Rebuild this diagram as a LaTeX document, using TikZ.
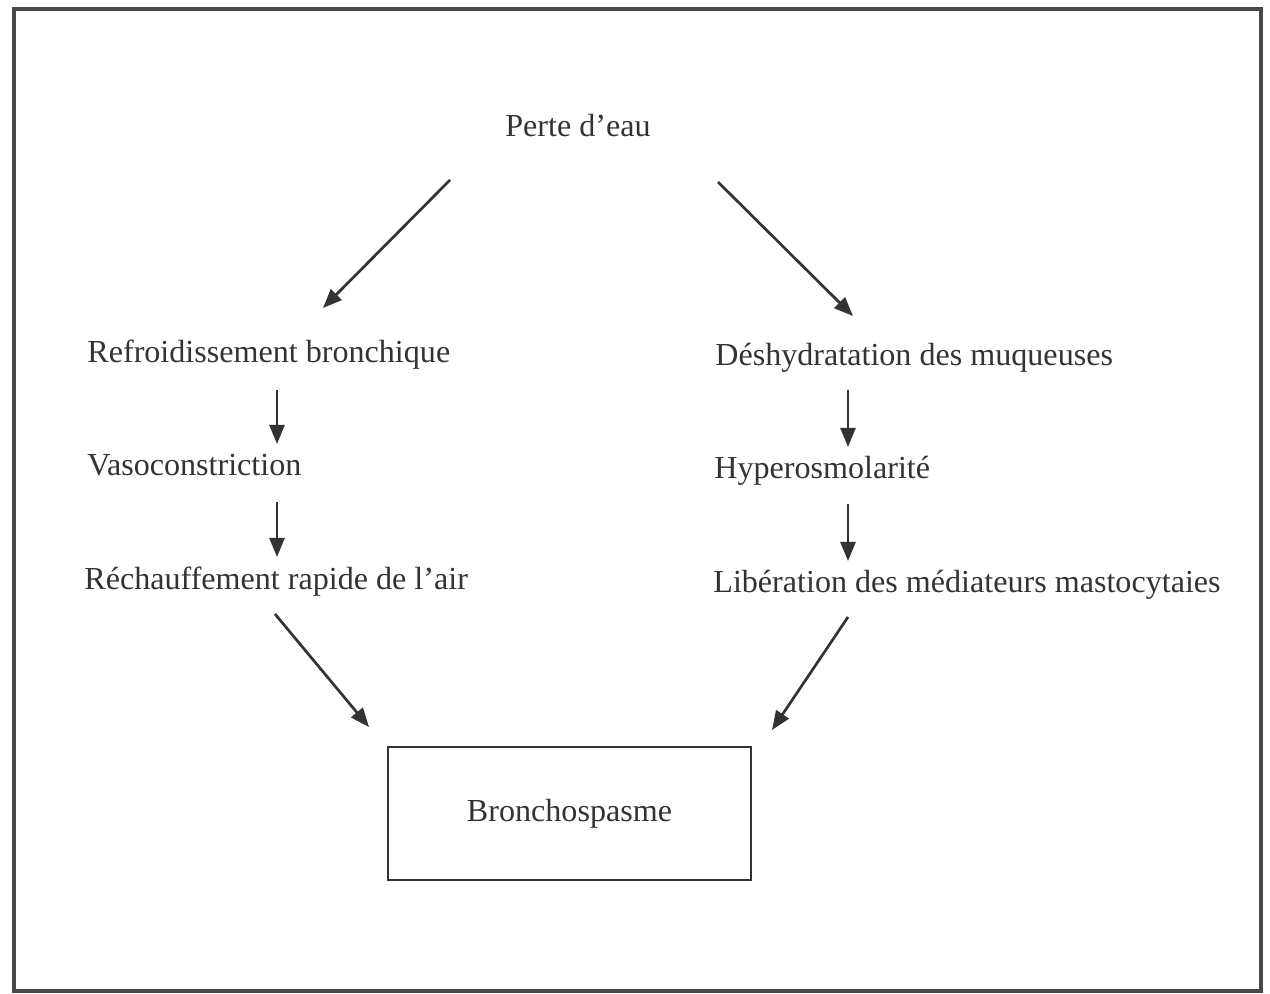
\documentclass[tikz,border=0pt]{standalone}
\usepackage{fontspec}
\setmainfont{Liberation Serif}
\usetikzlibrary{arrows.meta}
\definecolor{ink}{HTML}{333333}
\definecolor{framegray}{HTML}{474747}
\tikzset{
  lbl/.style={inner sep=0pt, text=ink, font=\fontsize{16.05pt}{19pt}\selectfont},
  flow/.style={draw=ink, line width=1.35pt, -{Triangle[length=9.5pt,width=7.5pt]}},
  result/.style={draw=ink, line width=0.8pt, minimum width=181.5pt, minimum height=66.5pt, inner sep=0pt}
}
\begin{document}
\begin{tikzpicture}[x=0.5pt,y=-0.5pt]
  \useasboundingbox (0,0) rectangle (1270,994);
  % outer frame
  \draw[framegray, line width=2.4pt] (14,9) rectangle (1261,991);

  % text nodes
  \node[lbl, anchor=base] (perte) at (578,137) {Perte d’eau};
  \node[lbl, anchor=base west] (refr) at (87,363) {Refroidissement bronchique};
  \node[lbl, anchor=base west] (vaso) at (87,476) {Vasoconstriction};
  \node[lbl, anchor=base west] (rech) at (84,589) {Réchauffement rapide de l’air};
  \node[lbl, anchor=base west] (desh) at (715,366) {Déshydratation des muqueuses};
  \node[lbl, anchor=base west] (hyper) at (714,479) {Hyperosmolarité};
  \node[lbl, anchor=base west] (liber) at (713,593) {Libération des médiateurs mastocytaies};
  \node[result] (broncho) at (569.5,813.5) {};
  \node[lbl] (bronchotxt) at (broncho.center) {Bronchospasme};

  % connector ends
  \coordinate (pL) at (450,180);
  \coordinate (pR) at (718,182);
  \coordinate (refrIn) at (323,308);
  \coordinate (deshIn) at (853,316);
  \coordinate (refrOut) at (277,390);
  \coordinate (vasoIn) at (277,444);
  \coordinate (vasoOut) at (277,502);
  \coordinate (rechIn) at (277,557);
  \coordinate (deshOut) at (848,390);
  \coordinate (hyperIn) at (848,447);
  \coordinate (hyperOut) at (848,504);
  \coordinate (liberIn) at (848,561);
  \coordinate (rechOut) at (275,614);
  \coordinate (bL) at (369,727);
  \coordinate (liberOut) at (848,617);
  \coordinate (bR) at (772,730);

  % connectors
  \draw[flow] (pL) -- (refrIn);
  \draw[flow] (pR) -- (deshIn);
  \draw[flow] (refrOut) -- (vasoIn);
  \draw[flow] (vasoOut) -- (rechIn);
  \draw[flow] (deshOut) -- (hyperIn);
  \draw[flow] (hyperOut) -- (liberIn);
  \draw[flow] (rechOut) -- (bL);
  \draw[flow] (liberOut) -- (bR);
\end{tikzpicture}
\end{document}
